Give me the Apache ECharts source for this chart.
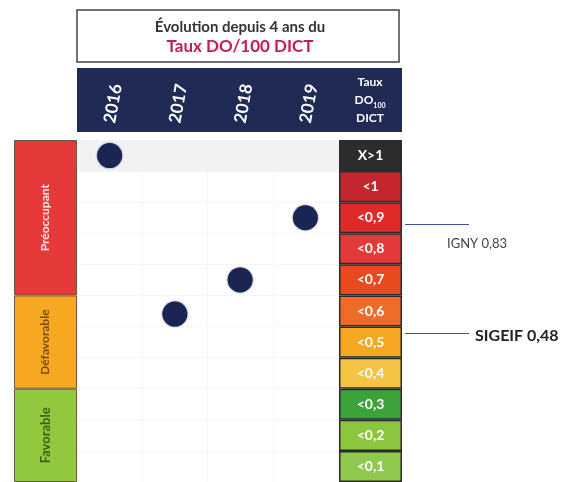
<!DOCTYPE html>
<html>
<head>
<meta charset="utf-8">
<script src="https://cdn.jsdelivr.net/npm/echarts@6/dist/echarts.min.js"></script>
<style>
html,body{margin:0;padding:0;background:#fff;}
#chart{width:571px;height:482px;}
</style>
</head>
<body>
<div id="chart"></div>
<script>
// ---- data ----
const titleLine1 = 'Évolution depuis 4 ans du';
const titleLine2 = 'Taux DO/100 DICT';
const years = ['2016', '2017', '2018', '2019'];
const rates = [1.05, 0.54, 0.65, 0.85];
const scaleLabels = ['<0,1', '<0,2', '<0,3', '<0,4', '<0,5', '<0,6', '<0,7', '<0,8', '<0,9', '<1', 'X>1'];
const scaleWidths = [1, 1, 1, 1, 1, 1, 1, 1, 1, 1, 1];
const statusLabels = ['Favorable', 'Défavorable', 'Préoccupant'];
const statusSpans = [0.3, 0.3, 0.5];
const refNames = ['IGNY 0,83', 'SIGEIF 0,48'];
const refValues = [0.83, 0.48];

// ---- styles ----
const scaleColors = ['#8fc94e', '#8cc63f', '#3ba33a', '#f6c445', '#f5a623', '#ef6b2a', '#e8491f', '#e23a3a', '#df2a29', '#c4262e', '#2a2d2b'];
const statusColors = ['#92c83e', '#f7a823', '#e5393a'];
const statusText = ['#3f5f12', '#7a4a06', '#fde6e6'];
const statusFontSize = [13, 12, 12];
const FONT = 'Lato, "Open Sans", sans-serif';
const Y_MAX = 1.1;
const TOP = 140, H = 346;

const chart = echarts.init(document.getElementById('chart'), null, {renderer: 'canvas'});

const option = {
  animation: false,
  backgroundColor: '#fff',
  textStyle: {fontFamily: FONT},
  grid: [
    {left: 77, width: 261, top: TOP, height: H},   // main plot
    {left: 339, width: 63, top: TOP, height: H},   // scale column
    {left: 14, width: 63, top: TOP, height: H},    // status column
    {left: 405, width: 64, top: TOP, height: H}    // reference lines
  ],
  xAxis: [
    {
      gridIndex: 0, type: 'category', data: years, position: 'top',
      axisLine: {show: false}, axisTick: {show: false},
      axisLabel: {rotate: 80, margin: 17, color: '#fff', fontWeight: 'bold', fontSize: 17, fontFamily: FONT},
      splitLine: {show: true, lineStyle: {color: '#ededed', type: 'dotted'}}
    },
    {gridIndex: 1, type: 'value', min: 0, max: 1, show: false},
    {gridIndex: 2, type: 'category', data: [''], show: false},
    {gridIndex: 3, type: 'value', min: 0, max: 1, show: false}
  ],
  yAxis: [
    {
      gridIndex: 0, type: 'value', min: 0, max: Y_MAX, interval: 0.1,
      axisLine: {show: false}, axisTick: {show: false}, axisLabel: {show: false},
      splitLine: {show: true, lineStyle: {color: '#ededed', type: 'dotted'}}
    },
    {gridIndex: 1, type: 'category', data: scaleLabels, show: false},
    {gridIndex: 2, type: 'value', min: 0, max: Y_MAX, show: false},
    {gridIndex: 3, type: 'value', min: 0, max: Y_MAX, show: false}
  ],
  series: [
    {
      type: 'scatter', xAxisIndex: 0, yAxisIndex: 0,
      data: rates,
      symbolSize: 25,
      itemStyle: {color: '#1a2554', opacity: 1, borderWidth: 0, shadowBlur: 2, shadowColor: 'rgba(26,37,84,0.7)'},
      markArea: {
        silent: true,
        itemStyle: {color: '#f2f2f2'},
        data: [[{yAxis: 1.0}, {yAxis: Y_MAX}]]
      },
      z: 5
    },
    {
      type: 'bar', xAxisIndex: 1, yAxisIndex: 1,
      data: scaleWidths.map((v, i) => ({value: v, itemStyle: {color: scaleColors[i]}})),
      barWidth: '100%', barCategoryGap: '0%',
      itemStyle: {borderColor: '#2b2b2b', borderWidth: 1.5},
      label: {show: true, position: 'inside', formatter: '{b}', color: '#fff', fontSize: 14, fontWeight: 'bold', fontFamily: FONT}
    },
    ...statusLabels.map((name, i) => ({
      type: 'bar', xAxisIndex: 2, yAxisIndex: 2, stack: 'status', name: name,
      data: [statusSpans[i]],
      barWidth: '100%',
      itemStyle: {color: statusColors[i], borderColor: '#6b5a40', borderWidth: 1},
      label: {show: true, position: 'inside', rotate: 90, formatter: name, color: statusText[i], fontSize: statusFontSize[i], fontWeight: 'bold', fontFamily: FONT}
    })),
    {
      type: 'scatter', xAxisIndex: 3, yAxisIndex: 3, data: [],
      markLine: {
        silent: true, symbol: 'none', animation: false,
        label: {show: false},
        lineStyle: {color: '#3d4f9f', width: 1.2, type: 'solid'},
        data: refValues.map(v => ({yAxis: v}))
      }
    }
  ],
  graphic: [
    {type: 'rect', shape: {x: 77, y: 10, width: 322, height: 52}, style: {fill: '#fff', stroke: '#444', lineWidth: 1.5}},
    {type: 'text', x: 240, y: 27, style: {text: titleLine1, align: 'center', verticalAlign: 'middle', fill: '#333', font: 'bold 15px ' + FONT}},
    {type: 'text', x: 240, y: 47, style: {text: titleLine2, align: 'center', verticalAlign: 'middle', fill: '#c41d50', font: 'bold 17px ' + FONT}},
    {type: 'rect', shape: {x: 77, y: 68, width: 325, height: 64}, style: {fill: '#1f2a55'}, z: -1},
    {type: 'text', x: 370, y: 100, style: {
      text: '{a|Taux}\n{a|DO}{s|100}\n{a|DICT}',
      align: 'center', verticalAlign: 'middle',
      rich: {
        a: {fill: '#fff', font: 'bold 12px ' + FONT, lineHeight: 18},
        s: {fill: '#fff', font: 'bold 7px ' + FONT, lineHeight: 18, verticalAlign: 'bottom'}
      }
    }}
  ]
};
chart.setOption(option);

// reference labels positioned through the reference grid's y scale
const refY = refValues.map(v => chart.convertToPixel({yAxisIndex: 3}, v));
chart.setOption({
  graphic: [
    {type: 'text', id: 'ref0', x: 447, y: refY[0] + 20, style: {text: refNames[0], verticalAlign: 'middle', fill: '#444', font: '13px ' + FONT}},
    {type: 'text', id: 'ref1', x: 475, y: refY[1] + 3, style: {text: refNames[1], verticalAlign: 'middle', fill: '#222', font: 'bold 16px ' + FONT}}
  ]
});
</script>
</body>
</html>
